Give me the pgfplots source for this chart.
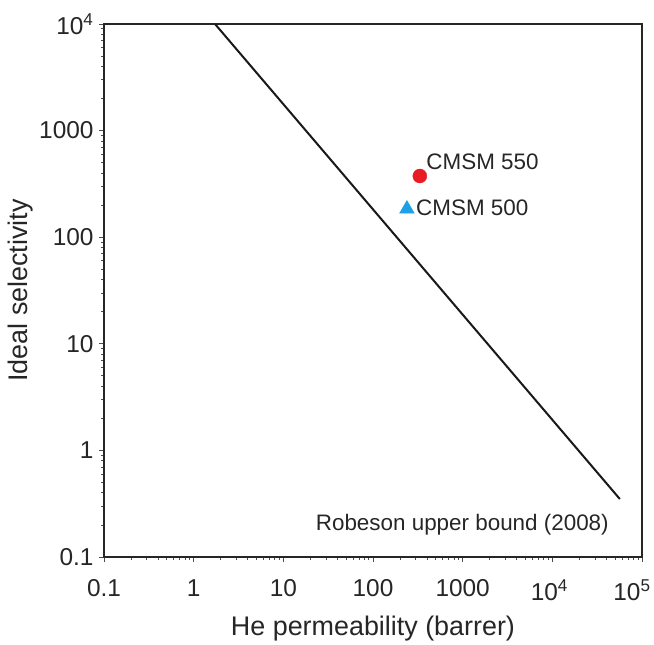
\documentclass[border=0pt]{standalone}
\usepackage{pgfplots}
\pgfplotsset{compat=1.18}
\usepackage{fontspec}
\setmainfont{Liberation Sans}
\definecolor{cred}{RGB}{232,28,36}
\definecolor{cblue}{RGB}{30,160,230}
\begin{document}
\begin{tikzpicture}
\path[use as bounding box] (-104bp,-88bp) rectangle (550bp,557bp);
\begin{axis}[
  at={(0,0)}, anchor=south west,
  scale only axis, width=538bp, height=533bp,
  xmode=log, ymode=log,
  xmin=0.1, xmax=1e5, ymin=0.1, ymax=1e4,
  axis line style={line width=2bp, black!85},
  xtick={0.1,1,10,100,1000,10000,100000},
  xticklabels={0.1,1,10,100,1000,10\textsuperscript{4}\kern6bp\relax,10\textsuperscript{5}\kern20bp\relax},
  ytick={0.1,1,10,100,1000,10000},
  yticklabels={0.1,1,10,100,1000,10\textsuperscript{4}},
  minor tick num=0, minor xtick={}, minor ytick={},
  tick align=outside, major tick length=5bp,
  tick style={line width=0.8bp, black!70},
  xtick pos=bottom, ytick pos=left,
  tick label style={font=\fontsize{24.5}{28}\selectfont, text=black!85},
  xticklabel style={yshift=-14bp},
  yticklabel style={xshift=-2bp},
  xlabel={He permeability (barrer)},
  ylabel={Ideal selectivity},
  label style={font=\fontsize{27}{31}\selectfont, text=black!85},
  xlabel style={at={(axis description cs:0.5,-0.135)}, anchor=center},
  ylabel style={at={(axis description cs:-0.156,0.5)}, anchor=center, rotate=0},
  clip=false,
]
\addplot[line width=2bp, black!90] coordinates {(1.73,10000) (56600,0.35)};
\addplot[only marks, mark=*, mark size=7bp, cred, mark options={draw=cred, fill=cred}] coordinates {(333,375)};
\addplot[only marks, mark=triangle*, mark size=8.5bp, cblue, mark options={draw=cblue, fill=cblue}] coordinates {(239,184)};
\node[anchor=west, inner sep=0pt, font=\fontsize{22.5}{26}\selectfont, text=black!85] at (rel axis cs:0.599,0.741) {CMSM 550};
\node[anchor=west, inner sep=0pt, font=\fontsize{22.5}{26}\selectfont, text=black!85] at (rel axis cs:0.580,0.655) {CMSM 500};
\node[anchor=center, inner sep=0pt, font=\fontsize{22.5}{26}\selectfont, text=black!85] at (rel axis cs:0.666,0.060) {Robeson upper bound (2008)};
\end{axis}
\end{tikzpicture}
\end{document}
